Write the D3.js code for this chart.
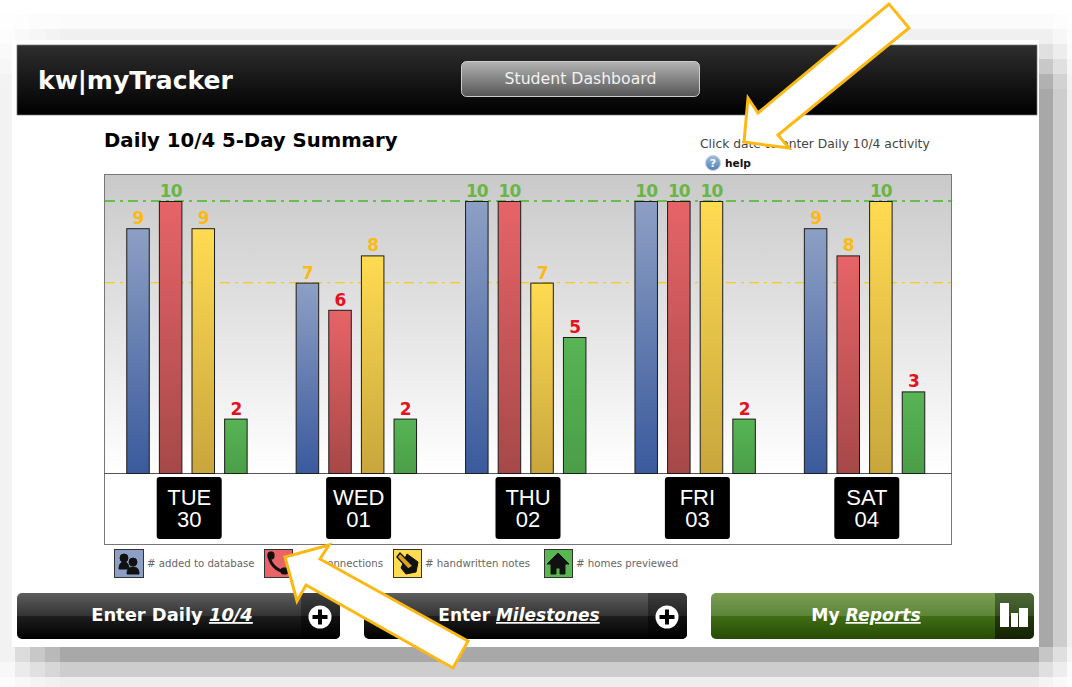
<!DOCTYPE html>
<html>
<head>
<meta charset="utf-8">
<script src="https://cdn.jsdelivr.net/npm/d3@7"></script>
<style>
  html, body { margin: 0; padding: 0; background: #fff; overflow: hidden; }
  svg { display: block; }
  text { font-family: "DejaVu Sans", sans-serif; }
</style>
</head>
<body>
<svg id="chart" width="1072" height="687"></svg>
<script>
const days = ["TUE", "WED", "THU", "FRI", "SAT"];
const dates = ["30", "01", "02", "03", "04"];
const series = ["database", "connections", "notes", "homes"];
const seriesLabels = ["# added to database", "# connections", "# handwritten notes", "# homes previewed"];
const addedToDatabase = [9, 7, 10, 10, 9];
const connections = [10, 6, 10, 10, 8];
const handwrittenNotes = [9, 8, 7, 10, 10];
const homesPreviewed = [2, 2, 5, 2, 3];
const goalLines = [10, 7];

const values = [addedToDatabase, connections, handwrittenNotes, homesPreviewed];
const plot = { left: 104, right: 951, top: 174, bottom: 473, boxBottom: 544 };

const svg = d3.select("#chart");
const defs = svg.append("defs");

function gradient(id, stops) {
  const g = defs.append("linearGradient").attr("id", id)
    .attr("x1", 0).attr("y1", 0).attr("x2", 0).attr("y2", 1);
  stops.forEach(([offset, color]) => {
    g.append("stop").attr("offset", offset).attr("stop-color", color);
  });
}

gradient("header", [[0, "#2e2e2e"], [1, "#000"]]);
gradient("pill", [[0, "#b4b4b4"], [1, "#555"]]);
gradient("plotBg", [[0, "#c9c9c9"], [1, "#fff"]]);
gradient("helpBall", [[0, "#9dbbd9"], [1, "#4f82b5"]]);
gradient("bar-database", [[0, "#8d9fc4"], [1, "#3a5a9c"]]);
gradient("bar-connections", [[0, "#e66468"], [1, "#a64848"]]);
gradient("bar-notes", [[0, "#ffdb52"], [1, "#c8a63c"]]);
gradient("bar-homes", [[0, "#58b455"], [1, "#4a9e48"]]);
gradient("btnDark", [[0, "#5e5e5e"], [0.5, "#333"], [0.5, "#1e1e1e"], [1, "#000"]]);
gradient("btnDarkIcon", [[0, "#3e3e3e"], [0.5, "#222"], [0.5, "#111"], [1, "#000"]]);
gradient("btnGreen", [[0, "#7c9f54"], [0.5, "#5c8538"], [0.5, "#406d14"], [1, "#274c06"]]);
gradient("btnGreenIcon", [[0, "#4f6a38"], [0.5, "#354f1f"], [0.5, "#24390c"], [1, "#142402"]]);

// blocky shadow behind the screenshot
const rowLevels = new Map([[14, 0.05], [29, 0.17], [44, 0.36], [59, 0.63], [74, 0.9], [647, 1], [662, 0.57], [677, 0.2]]);
const colLevels = new Map([[0, 0.15], [15, 0.4], [30, 0.63], [45, 0.8], [1039, 1], [1053, 0.57], [1067, 0.17]]);
const shadowRows = d3.range(14, 89, 15).concat(d3.range(89, 647, 15), [647, 662, 677]);
const shadowCols = d3.range(0, 60, 15).concat(d3.range(60, 1039, 15), [1039, 1053, 1067]);
const shadow = svg.append("g");
shadowRows.forEach((y, r) => {
  shadowCols.forEach((x, c) => {
    const fy = rowLevels.has(y) ? rowLevels.get(y) : 1;
    let fx = colLevels.has(x) ? colLevels.get(x) : 1;
    if (y < 647 && y >= 44 && x < 1039 && x >= 15) fx = 0;
    let dark = 87 * fx * fy;
    if (x >= 1039 && y >= 647) dark *= 0.65;
    const v = Math.round(255 - dark);
    shadow.append("rect")
      .attr("x", x).attr("y", y)
      .attr("width", (shadowCols[c + 1] || 1072) - x)
      .attr("height", (shadowRows[r + 1] || 687) - y)
      .attr("fill", `rgb(${v},${v},${v})`);
  });
});

// page card and header
svg.append("rect").attr("x", 12).attr("y", 40).attr("width", 1027).attr("height", 607).attr("fill", "#fff");
svg.append("rect").attr("x", 17).attr("y", 45).attr("width", 1020).attr("height", 70)
  .attr("fill", "url(#header)").attr("stroke", "#777").attr("stroke-width", 0.7);
svg.append("text").attr("x", 38).attr("y", 89).attr("fill", "#fff")
  .attr("font-size", 25).attr("font-weight", "bold").text("kw|myTracker");
svg.append("rect").attr("x", 461.5).attr("y", 61.5).attr("width", 238).attr("height", 35).attr("rx", 5)
  .attr("fill", "url(#pill)").attr("stroke", "#ccc");
svg.append("text").attr("x", 580.5).attr("y", 84).attr("text-anchor", "middle").attr("fill", "#f2f2f2")
  .attr("font-size", 15.7).text("Student Dashboard");

svg.append("text").attr("x", 104).attr("y", 147).attr("fill", "#000")
  .attr("font-size", 19.7).attr("font-weight", "bold").text("Daily 10/4 5-Day Summary");
svg.append("text").attr("x", 700).attr("y", 148).attr("fill", "#444")
  .attr("font-size", 12.3).text("Click date to enter Daily 10/4 activity");
svg.append("circle").attr("cx", 713).attr("cy", 163).attr("r", 7.5).attr("fill", "url(#helpBall)").attr("stroke", "#c3d5e8");
svg.append("text").attr("x", 713).attr("y", 167).attr("text-anchor", "middle").attr("fill", "#fff")
  .attr("font-size", 11).attr("font-weight", "bold").text("?");
svg.append("text").attr("x", 725).attr("y", 167).attr("fill", "#111")
  .attr("font-size", 10.6).attr("font-weight", "bold").text("help");

// scales
const xDay = d3.scaleBand().domain(days).range([plot.left, plot.right]);
const xSeries = d3.scaleBand().domain(series)
  .range([xDay.bandwidth() / 2 - 67.5, xDay.bandwidth() / 2 + 63])
  .paddingInner(0.31).paddingOuter(0.155);
const y = d3.scaleLinear().domain([0, 10]).range([plot.bottom, 201]);
const labelColor = (v) => (v >= 10 ? "#6ab545" : v >= 7 ? "#fdb913" : "#e8101c");

// plot area
svg.append("rect").attr("x", plot.left).attr("y", plot.top)
  .attr("width", plot.right - plot.left).attr("height", plot.bottom - plot.top)
  .attr("fill", "url(#plotBg)");
svg.append("rect").attr("x", plot.left + 0.5).attr("y", plot.top + 0.5)
  .attr("width", plot.right - plot.left).attr("height", plot.boxBottom - plot.top)
  .attr("fill", "none").attr("stroke", "#777");
svg.append("line").attr("x1", plot.left).attr("x2", plot.right + 1)
  .attr("y1", plot.bottom + 0.5).attr("y2", plot.bottom + 0.5).attr("stroke", "#555");

svg.selectAll(".goal").data(goalLines).join("line").attr("class", "goal")
  .attr("x1", plot.left + 1).attr("x2", plot.right)
  .attr("y1", (d) => y(d)).attr("y2", (d) => y(d))
  .attr("stroke", (d) => (d === 10 ? "#66bf4a" : "#f5cb1e"))
  .attr("stroke-width", (d) => (d === 10 ? 2 : 1.2))
  .attr("stroke-dasharray", "10 5 3 5");

const dayGroups = svg.selectAll(".day").data(days).join("g").attr("class", "day")
  .attr("transform", (d) => `translate(${xDay(d)},0)`);

dayGroups.each(function (day, i) {
  const rows = series.map((s, k) => ({ s, v: values[k][i] }));
  const g = d3.select(this);
  g.selectAll("rect").data(rows).join("rect")
    .attr("x", (d) => xSeries(d.s) + 0.5)
    .attr("y", (d) => y(d.v) + 0.5)
    .attr("width", xSeries.bandwidth())
    .attr("height", (d) => plot.bottom - y(d.v))
    .attr("fill", (d) => `url(#bar-${d.s})`)
    .attr("stroke", "#1c1c1c");
  g.selectAll("text").data(rows).join("text")
    .attr("x", (d) => xSeries(d.s) + xSeries.bandwidth() / 2 + 0.5)
    .attr("y", (d) => y(d.v) - 4)
    .attr("text-anchor", "middle")
    .attr("font-size", 17).attr("font-weight", "bold").attr("letter-spacing", -1)
    .attr("fill", (d) => labelColor(d.v))
    .text((d) => d.v);
});

// date tabs as the x axis
const axis = svg.append("g").attr("transform", `translate(0,${plot.bottom})`)
  .call(d3.axisBottom(xDay).tickSize(0).tickPadding(0));
axis.select(".domain").remove();
axis.selectAll(".tick").each(function (d, i) {
  const tick = d3.select(this);
  tick.select("text").remove();
  tick.append("rect").attr("x", -32).attr("y", 4).attr("width", 65).attr("height", 62).attr("rx", 3).attr("fill", "#000");
  const label = tick.append("text").attr("text-anchor", "middle").attr("fill", "#fff")
    .attr("font-size", 22).style("font-family", "'Liberation Sans', sans-serif");
  label.append("tspan").attr("x", 0.5).attr("y", 32).text(d);
  label.append("tspan").attr("x", 0.5).attr("y", 54).text(dates[i]);
});

// legend
const legendIconX = [114, 264, 393, 544];
const legendIconW = [29, 28, 28, 28];
const legendFill = ["#8d9fc4", "#e86468", "#ffdb52", "#58b84f"];
const legend = svg.selectAll(".legend").data(series).join("g").attr("class", "legend")
  .attr("transform", (d, i) => `translate(${legendIconX[i]},549)`);
legend.append("rect").attr("x", 0.5).attr("y", 0.5)
  .attr("width", (d, i) => legendIconW[i]).attr("height", 28)
  .attr("fill", (d, i) => legendFill[i]).attr("stroke", "#333");
legend.append("text")
  .attr("x", (d, i) => (i === 1 ? 119 : legendIconW[i] + 4))
  .attr("y", 18)
  .attr("text-anchor", (d, i) => (i === 1 ? "end" : "start"))
  .attr("font-size", 10.2).attr("fill", "#666")
  .text((d, i) => seriesLabels[i]);

const icons = legend.append("g").attr("fill", "#111").attr("stroke", "#111");
d3.select(icons.nodes()[0]).call((g) => {
  g.append("circle").attr("cx", 10).attr("cy", 9).attr("r", 4);
  g.append("path").attr("d", "M5 20c0-5 2-7 5-7s5 2 5 7z");
  g.append("circle").attr("cx", 19).attr("cy", 13).attr("r", 4);
  g.append("path").attr("d", "M13 25c0-5 2-7 6-7s6 2 6 7z");
});
d3.select(icons.nodes()[1]).call((g) => {
  g.append("path").attr("d", "M5 5c0 9 7 17 17 18").attr("fill", "none").attr("stroke-width", 3);
  g.append("rect").attr("x", 4).attr("y", 3).attr("width", 6).attr("height", 7).attr("rx", 2);
  g.append("rect").attr("x", 17).attr("y", 19).attr("width", 7).attr("height", 6).attr("rx", 2);
});
d3.select(icons.nodes()[2]).call((g) => {
  g.append("path").attr("d", "M14 5l11 8-2 10-10 2-5-6z");
  g.append("path").attr("d", "M4 8l3-4 13 13-5 3z").attr("fill", "#d9a520").attr("stroke-width", 1.4);
});
d3.select(icons.nodes()[3]).call((g) => {
  g.append("path").attr("d", "M14 4L3 15h4v10h5v-6h4v6h5V15h4z");
});

// bottom buttons
const buttons = [
  { x: 17, w: 323, lead: "Enter Daily ", em: "10/4", face: "btnDark", icon: "btnDarkIcon", tx: 172, size: 17.9 },
  { x: 364, w: 323, lead: "Enter ", em: "Milestones", face: "btnDark", icon: "btnDarkIcon", tx: 519, size: 17 },
  { x: 711, w: 323, lead: "My ", em: "Reports", face: "btnGreen", icon: "btnGreenIcon", tx: 866, size: 17.2 },
];
const btn = svg.selectAll(".btn").data(buttons).join("g").attr("class", "btn");
btn.append("rect").attr("x", (d) => d.x).attr("y", 593).attr("width", (d) => d.w).attr("height", 46).attr("rx", 5)
  .attr("fill", (d) => `url(#${d.face})`);
btn.append("path")
  .attr("d", (d) => `M${d.x + d.w - 39} 593h34a5 5 0 0 1 5 5v36a5 5 0 0 1 -5 5h-34z`)
  .attr("fill", (d) => `url(#${d.icon})`);
const btnText = btn.append("text").attr("x", (d) => d.tx).attr("y", 621).attr("text-anchor", "middle")
  .attr("fill", "#fff").attr("font-size", (d) => d.size).attr("font-weight", "bold");
btnText.append("tspan").text((d) => d.lead).style("white-space", "pre");
btnText.append("tspan").text((d) => d.em).attr("font-style", "italic").attr("text-decoration", "underline");

btn.filter((d) => d.face === "btnDark").each(function (d) {
  const cx = d.x + d.w - 20;
  const g = d3.select(this);
  g.append("circle").attr("cx", cx).attr("cy", 617).attr("r", 11.5).attr("fill", "#fff");
  g.append("rect").attr("x", cx - 7.5).attr("y", 615).attr("width", 15).attr("height", 4).attr("fill", "#000");
  g.append("rect").attr("x", cx - 2).attr("y", 609.5).attr("width", 4).attr("height", 15).attr("fill", "#000");
});
[[1000, 603, 9, 24], [1011, 613, 7, 14], [1019, 608, 9, 19]].forEach(([bx, by, bw, bh]) => {
  svg.append("rect").attr("x", bx).attr("y", by).attr("width", bw).attr("height", bh).attr("fill", "#fff");
});

// callout arrows
const arrows = [
  [[744, 142], [748, 98], [758, 113], [889, 4], [909, 28], [778, 135], [789, 148]],
  [[285, 557], [297, 601], [306, 585], [453, 668], [468, 641], [320, 559], [329, 545]],
];
svg.selectAll(".arrow").data(arrows).join("polygon").attr("class", "arrow")
  .attr("points", (d) => d.join(" "))
  .attr("fill", "#fff").attr("stroke", "#fdb913").attr("stroke-width", 3);
</script>
</body>
</html>
